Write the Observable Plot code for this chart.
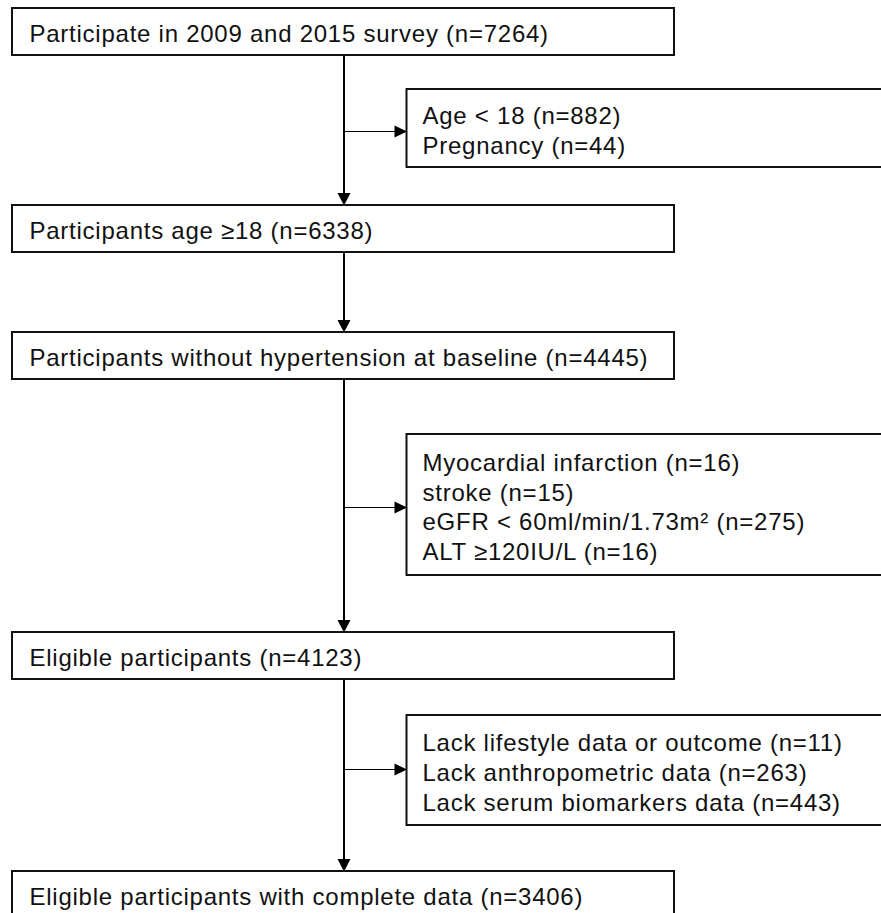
<!DOCTYPE html>
<html>
<head>
<meta charset="utf-8">
<script src="https://cdn.jsdelivr.net/npm/d3@7"></script>
<script src="https://cdn.jsdelivr.net/npm/@observablehq/plot@0.6"></script>
<style>
  html, body { margin: 0; padding: 0; background: #fff; overflow: hidden; }
</style>
</head>
<body>
<div id="chart"></div>
<script>
// ---- content ----
const mainLabels = [
  "Participate in 2009 and 2015 survey (n=7264)",
  "Participants age ≥18 (n=6338)",
  "Participants without hypertension at baseline (n=4445)",
  "Eligible participants (n=4123)",
  "Eligible participants with complete data (n=3406)"
];
const exclusionLabels = [
  ["Age < 18 (n=882)", "Pregnancy (n=44)"],
  ["Myocardial infarction (n=16)", "stroke (n=15)", "eGFR < 60ml/min/1.73m² (n=275)", "ALT ≥120IU/L (n=16)"],
  ["Lack lifestyle data or outcome (n=11)", "Lack anthropometric data (n=263)", "Lack serum biomarkers data (n=443)"]
];
const exclusionAfterStep = [0, 2, 3];

// ---- layout (pixel units of the 881 x 913 canvas) ----
const mainTop = [8, 205, 332, 632, 871];
const mainHeight = 47;
const mainLeft = 12, mainRight = 674;
const spineX = 343.5;
const sideLeft = 406.5, sideRight = 890;
const sideTop = [89, 434, 715];
const sideBottom = [167, 575, 825];
const branchY = [131, 507, 769];
const textPadMain = 29, textPadSide = 422;

const W = 881, H = 913;

const mainBoxes = mainLabels.map((label, i) => ({
  label, x1: mainLeft, x2: mainRight, y1: mainTop[i], y2: mainTop[i] + mainHeight
}));
const sideBoxes = exclusionLabels.map((lines, i) => ({
  label: lines.join("\n"), x1: sideLeft, x2: sideRight, y1: sideTop[i], y2: sideBottom[i], by: branchY[i]
}));
const spineLinks = mainBoxes.slice(1).map((b, i) => ({
  x1: spineX, y1: mainBoxes[i].y2, x2: spineX, y2: b.y1
}));
const branchLinks = sideBoxes.map(s => ({ x1: spineX, y1: s.by, x2: s.x1, y2: s.by }));

const triDown = { draw(ctx) { ctx.moveTo(0, 0); ctx.lineTo(-6.5, -12.5); ctx.lineTo(6.5, -12.5); ctx.closePath(); } };
const triRight = { draw(ctx) { ctx.moveTo(0, 0); ctx.lineTo(-12.5, -6); ctx.lineTo(-12.5, 6); ctx.closePath(); } };

const font = "'Liberation Sans', Arial, Helvetica, sans-serif";

const chart = Plot.plot({
  width: W,
  height: H,
  margin: 0,
  x: { domain: [0, W], range: [0, W], axis: null },
  y: { domain: [0, H], range: [0, H], axis: null },
  style: { background: "#fff", fontFamily: font, letterSpacing: "0.75px", overflow: "hidden" },
  marks: [
    Plot.link(spineLinks, { x1: "x1", y1: "y1", x2: "x2", y2: "y2", stroke: "#000", strokeWidth: 2 }),
    Plot.link(branchLinks, { x1: "x1", y1: "y1", x2: "x2", y2: "y2", stroke: "#000", strokeWidth: 1.2 }),
    Plot.rect(mainBoxes, { x1: "x1", x2: "x2", y1: "y1", y2: "y2", fill: "#fff", stroke: "#111", strokeWidth: 2 }),
    Plot.rect(sideBoxes, { x1: "x1", x2: "x2", y1: "y1", y2: "y2", fill: "#fff", stroke: "#111", strokeWidth: 2 }),
    Plot.dot(mainBoxes.slice(1), { x: () => spineX, y: "y1", symbol: triDown, fill: "#000", stroke: "none" }),
    Plot.dot(sideBoxes, { x: "x1", y: "by", symbol: triRight, fill: "#000", stroke: "none" }),
    Plot.text(mainBoxes, {
      x: () => textPadMain, y: d => d.y1 + 26, text: "label",
      textAnchor: "start", fontSize: 24, fill: "#111", fontFamily: font
    }),
    Plot.text(sideBoxes, {
      x: () => textPadSide, y: d => (d.y1 + d.y2) / 2 + 1, text: "label",
      textAnchor: "start", lineAnchor: "middle", lineHeight: 1.24, fontSize: 24, fill: "#111", fontFamily: font
    })
  ]
});
document.getElementById("chart").appendChild(chart);
</script>
</body>
</html>
